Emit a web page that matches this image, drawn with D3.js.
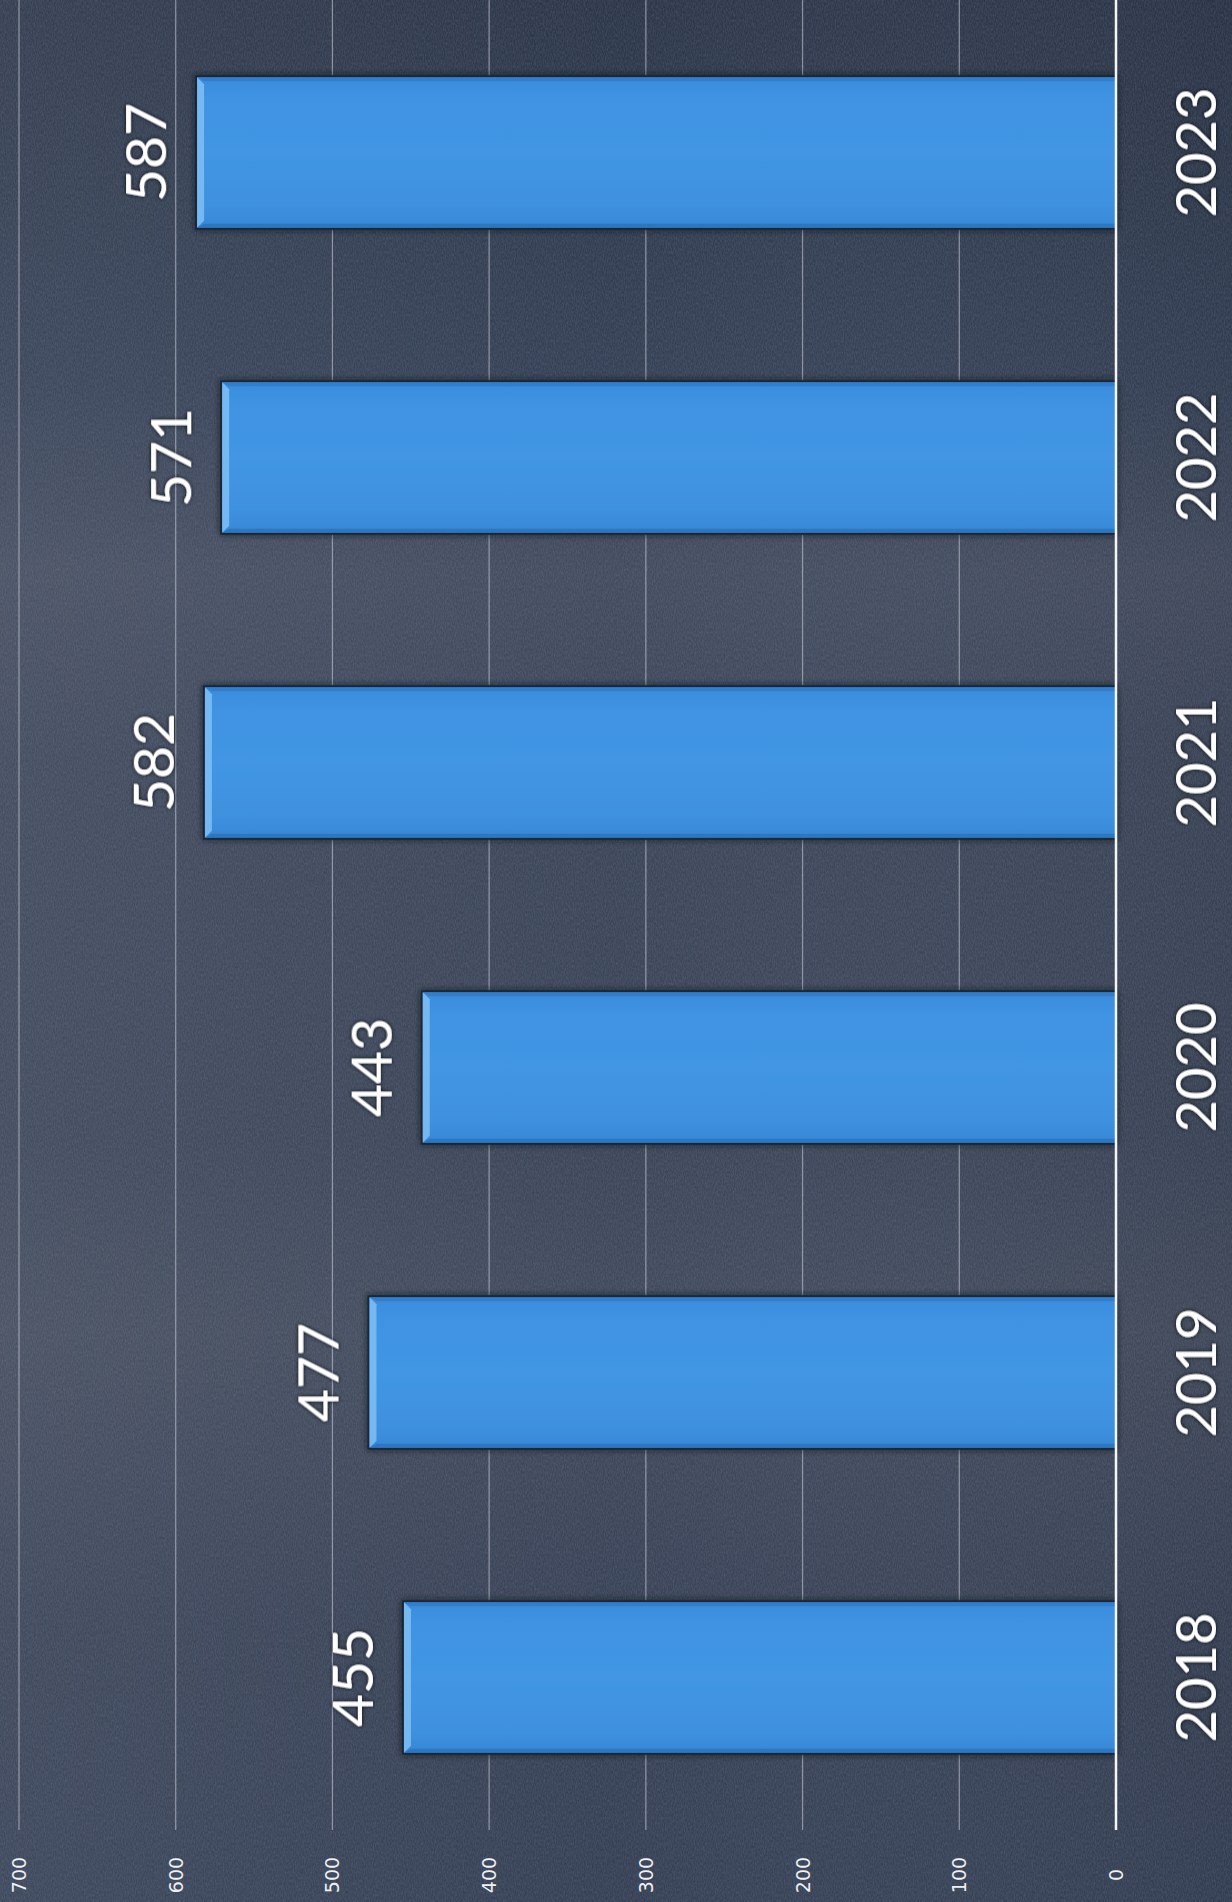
<!DOCTYPE html>
<html>
<head>
<meta charset="utf-8">
<script src="https://cdn.jsdelivr.net/npm/d3@7/dist/d3.min.js"></script>
<style>
  html, body { margin: 0; padding: 0; background: #394356; }
  svg { display: block; }
</style>
</head>
<body>
<svg id="chart" width="1232" height="1902"></svg>
<script>
// Yearly totals, drawn as a column chart turned on its side
const years = ["2018", "2019", "2020", "2021", "2022", "2023"];
const values = [455, 477, 443, 582, 571, 587];
const tickValues = [0, 100, 200, 300, 400, 500, 600, 700];

const W = 1232, H = 1902;
const svg = d3.select("#chart");
const defs = svg.append("defs");

// background: dark slate with a softer, lighter middle
const bg = defs.append("linearGradient").attr("id", "bgGrad")
  .attr("x1", 0).attr("y1", 0).attr("x2", 0).attr("y2", 1);
[[0, "#2c3649"], [0.2, "#344055"], [0.3, "#434c5f"], [0.4, "#3c4659"],
 [0.6, "#3b4558"], [0.7, "#424b5d"], [0.85, "#384256"], [1, "#354055"]]
  .forEach(([o, c]) => bg.append("stop").attr("offset", o).attr("stop-color", c));

const side = defs.append("linearGradient").attr("id", "sideGrad")
  .attr("x1", 0).attr("y1", 0).attr("x2", 1).attr("y2", 0);
[[0, "rgba(255,255,255,0.05)"], [0.5, "rgba(255,255,255,0.0)"], [1, "rgba(0,0,0,0.06)"]]
  .forEach(([o, c]) => side.append("stop").attr("offset", o).attr("stop-color", c));

// grain
const grain = defs.append("filter").attr("id", "grain")
  .attr("x", 0).attr("y", 0).attr("width", "100%").attr("height", "100%");
grain.append("feTurbulence").attr("type", "fractalNoise")
  .attr("baseFrequency", "0.9 0.35").attr("numOctaves", 2).attr("seed", 3).attr("result", "n");
grain.append("feColorMatrix").attr("type", "matrix")
  .attr("values", "0 0 0 0 0.42  0 0 0 0 0.45  0 0 0 0 0.55  0 0 0 0.9 -0.25");

// shadow behind bars and labels
const shadow = defs.append("filter").attr("id", "barShadow")
  .attr("x", "-10%").attr("y", "-20%").attr("width", "120%").attr("height", "140%");
shadow.append("feDropShadow").attr("dx", 0).attr("dy", 0).attr("stdDeviation", 3)
  .attr("flood-color", "#0e121c").attr("flood-opacity", 0.8);

const textShadow = defs.append("filter").attr("id", "textShadow")
  .attr("x", "-20%").attr("y", "-20%").attr("width", "140%").attr("height", "140%");
textShadow.append("feDropShadow").attr("dx", 0).attr("dy", 0).attr("stdDeviation", 2)
  .attr("flood-color", "#000000").attr("flood-opacity", 0.9);

const barGrad = defs.append("linearGradient").attr("id", "barGrad")
  .attr("x1", 0).attr("y1", 0).attr("x2", 0).attr("y2", 1);
[[0, "#3a8cdc"], [0.15, "#3f93e2"], [0.5, "#4296e4"], [0.85, "#3e91df"], [1, "#3688d6"]]
  .forEach(([o, c]) => barGrad.append("stop").attr("offset", o).attr("stop-color", c));

svg.append("rect").attr("width", W).attr("height", H).attr("fill", "url(#bgGrad)");
svg.append("rect").attr("width", W).attr("height", H).attr("fill", "url(#sideGrad)");
svg.append("rect").attr("width", W).attr("height", H).attr("filter", "url(#grain)").attr("opacity", 0.3);

// scales: value runs right-to-left, years top-to-bottom (newest at top)
const plotBottom = 1830;
const x = d3.scaleLinear().domain([0, 700]).range([1116, 19]);
const y = d3.scaleBand().domain(years).range([plotBottom, 0])
  .paddingInner(0.5).paddingOuter(0.25);

// gridlines
svg.append("g").selectAll("line").data(tickValues.filter(d => d > 0)).join("line")
  .attr("x1", d => x(d)).attr("x2", d => x(d))
  .attr("y1", 0).attr("y2", plotBottom)
  .attr("stroke", "#c9ccd6").attr("stroke-opacity", 0.6).attr("stroke-width", 1.2);

// tick labels
svg.append("g").selectAll("text").data(tickValues).join("text")
  .attr("transform", d => `translate(${x(d) + 7},1875) rotate(-90)`)
  .attr("text-anchor", "middle")
  .attr("font-family", "DejaVu Sans, sans-serif")
  .attr("font-size", 19)
  .attr("fill", "#eef0f4")
  .text(d => d);

// bars
const bars = svg.append("g").selectAll("g").data(years).join("g");
const bevel = 7;
bars.append("rect")
  .attr("x", (d, i) => x(values[i]))
  .attr("y", d => y(d))
  .attr("width", (d, i) => x(0) - x(values[i]))
  .attr("height", y.bandwidth())
  .attr("fill", "url(#barGrad)")
  .attr("stroke", "#1c2638").attr("stroke-width", 2)
  .attr("filter", "url(#barShadow)");
// lit end facet
bars.append("path")
  .attr("d", (d, i) => {
    const x0 = x(values[i]) + 1, y0 = y(d) + 1, y1 = y(d) + y.bandwidth() - 1;
    return `M${x0},${y0}L${x0 + bevel},${y0 + bevel}L${x0 + bevel},${y1 - bevel}L${x0},${y1}Z`;
  })
  .attr("fill", "#80bff4").attr("opacity", 0.85);
// upper and lower facets
bars.append("path")
  .attr("d", (d, i) => {
    const x0 = x(values[i]) + 1, x1 = x(0), y0 = y(d) + 1;
    return `M${x0},${y0}L${x1},${y0}L${x1},${y0 + 4}L${x0 + bevel},${y0 + 4}Z`;
  })
  .attr("fill", "#2f78c2").attr("opacity", 0.7);
bars.append("path")
  .attr("d", (d, i) => {
    const x0 = x(values[i]) + 1, x1 = x(0), y1 = y(d) + y.bandwidth() - 1;
    return `M${x0},${y1}L${x1},${y1}L${x1},${y1 - 4}L${x0 + bevel},${y1 - 4}Z`;
  })
  .attr("fill", "#2a6fb6").attr("opacity", 0.7);

// value axis baseline
svg.append("line")
  .attr("x1", x(0)).attr("x2", x(0)).attr("y1", 0).attr("y2", plotBottom)
  .attr("stroke", "#f4f5f8").attr("stroke-width", 2.5);

// value labels
svg.append("g").selectAll("text").data(years).join("text")
  .attr("transform", (d, i) => `translate(${x(values[i]) - 30},${y(d) + y.bandwidth() / 2}) rotate(-90)`)
  .attr("text-anchor", "middle")
  .attr("font-family", "Lato, sans-serif")
  .attr("font-size", 57)
  .attr("fill", "#ffffff")
  .attr("filter", "url(#textShadow)")
  .text((d, i) => values[i]);

// year labels
svg.append("g").selectAll("text").data(years).join("text")
  .attr("transform", d => `translate(${x(0) + 100},${y(d) + y.bandwidth() / 2}) rotate(-90)`)
  .attr("text-anchor", "middle")
  .attr("font-family", "Lato, sans-serif")
  .attr("font-size", 56)
  .attr("fill", "#ffffff")
  .attr("filter", "url(#textShadow)")
  .text(d => d);
</script>
</body>
</html>
